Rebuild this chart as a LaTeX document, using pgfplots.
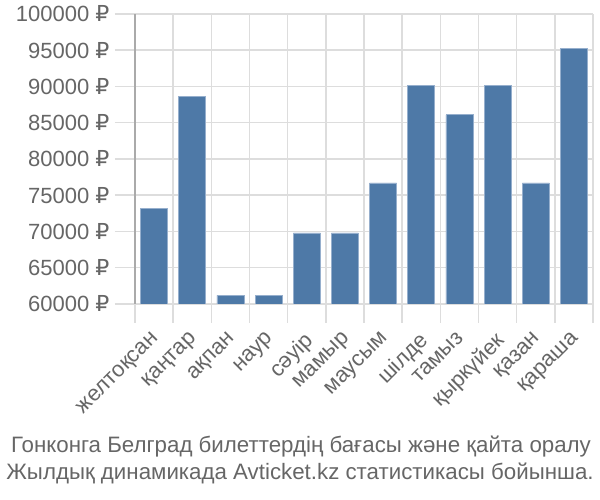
\documentclass[border=0pt]{standalone}
\usepackage{pgfplots}
\pgfplotsset{compat=1.18}
\usepackage{fontspec}
\setmainfont{Liberation Sans}
\newfontfamily\rub{DejaVu Sans}
\definecolor{barblue}{RGB}{78,121,167}
\definecolor{baredge}{RGB}{150,175,205}
\definecolor{gridgray}{RGB}{221,221,221}
\definecolor{txtgray}{RGB}{102,102,102}
\definecolor{axgray}{RGB}{170,170,170}
\begin{document}
\begin{tikzpicture}[x=1pt,y=1pt]
\begin{axis}[
  at={(135pt,196pt)}, anchor=south west,
  scale only axis, width=458pt, height=290pt,
  xmin=-0.5, xmax=11.5, ymin=60000, ymax=100000,
  xtick={0,...,11},
  xticklabels={желтоқсан,қаңтар,ақпан,наур,сәуір,мамыр,маусым,шілде,тамыз,қыркүйек,қазан,қараша},
  minor xtick={-0.5,0.5,...,11.5},
  ytick={60000,65000,...,100000},
  scaled y ticks=false,
  yticklabel={\pgfmathprintnumber[fixed,precision=0,1000 sep={}]{\tick}~{\rub ₽}},
  /pgf/number format/assume math mode=true,
  tick align=outside,
  major x tick style={draw=none},
  major tick length=20pt,
  minor tick length=19pt,
  tick style={gridgray, line width=1.5pt},
  xmajorgrids=false, xminorgrids=true, ymajorgrids=true,
  grid style={gridgray, line width=1.5pt},
  minor grid style={gridgray, line width=1.5pt},
  axis x line*=bottom, axis y line*=left,
  x axis line style={gridgray, line width=1.5pt, -},
  y axis line style={axgray, line width=1.5pt, -},
  ticklabel style={font=\fontsize{22}{26}\selectfont, text=txtgray},
  xticklabel style={rotate=45, anchor=north east, inner sep=1pt, yshift=-1pt, xshift=-6pt},
  yticklabel style={xshift=-2pt},
]
\addplot[ybar, bar width=27pt, fill=barblue, draw=baredge, line width=0.6pt] coordinates {
(0,73200) (1,88600) (2,61200) (3,61200) (4,69800) (5,69800)
(6,76700) (7,90200) (8,86100) (9,90200) (10,76700) (11,95200)};
\draw[axgray, line width=1.5pt] (axis cs:-0.5,60000) -- ++(0,-19pt);
\end{axis}
\node[anchor=base, text=txtgray, font=\fontsize{22.3}{26}\selectfont] at (301pt,47pt) {Гонконга Белград билеттердің бағасы және қайта оралу};
\node[anchor=base, text=txtgray, font=\fontsize{22.3}{26}\selectfont] at (300pt,20pt) {Жылдық динамикада Avticket.kz статистикасы бойынша.};
\pgfresetboundingbox
\useasboundingbox (0,0) rectangle (600pt,500pt);
\end{tikzpicture}
\end{document}
